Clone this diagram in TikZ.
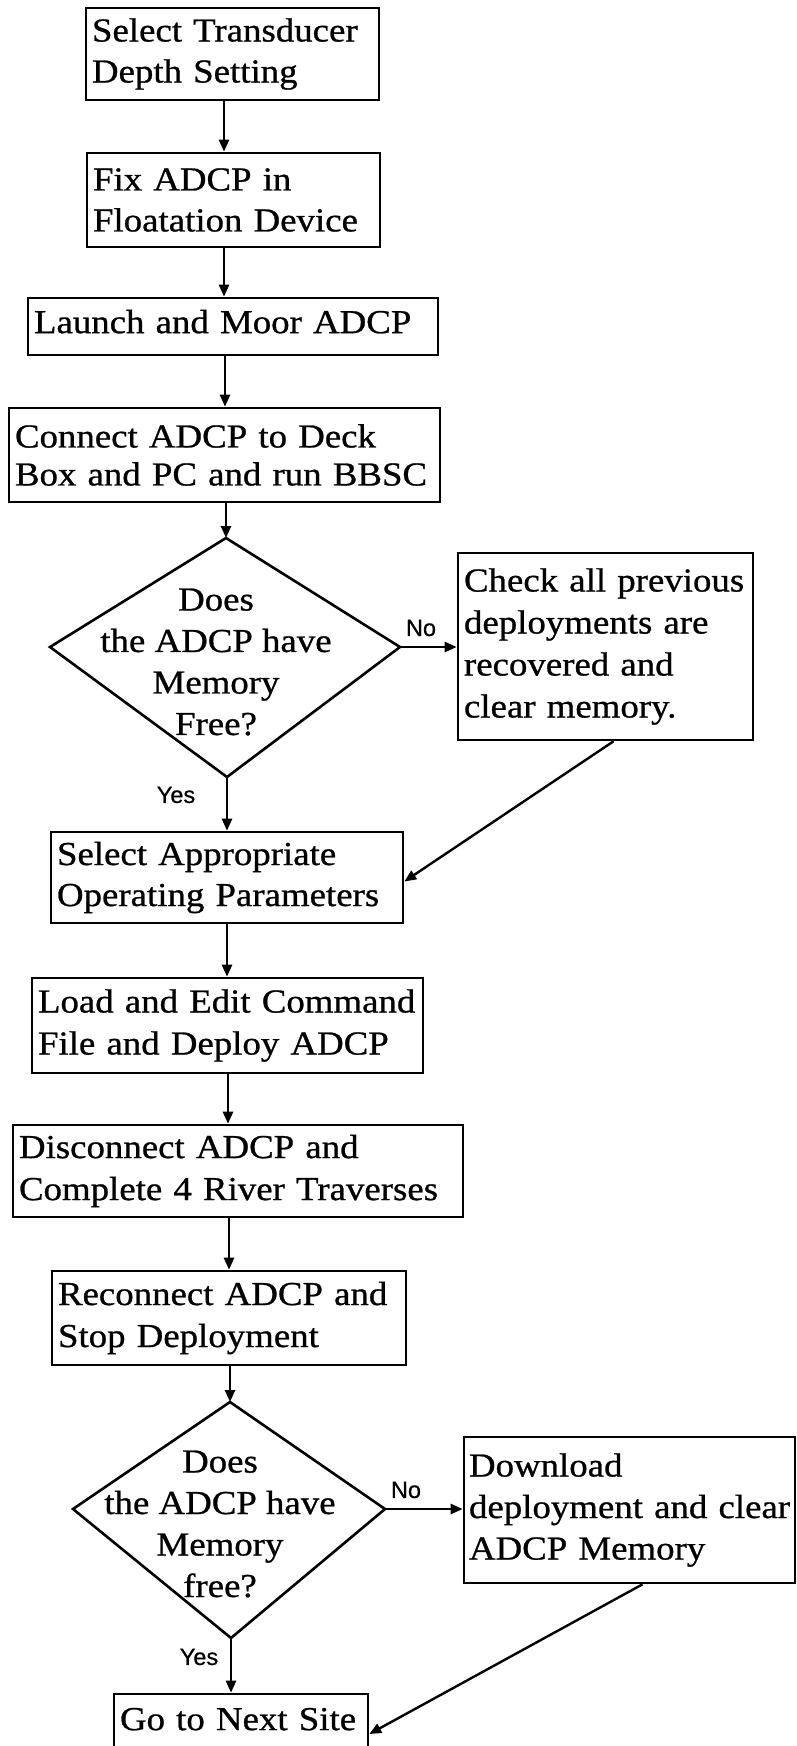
\documentclass[tikz,border=0pt]{standalone}
\usepackage{fontspec}
\setmainfont[FakeStretch=1.1,FakeBold=0.8]{Liberation Serif}
\newfontfamily\lblfont[FakeBold=0.6]{Liberation Sans}
\usetikzlibrary{arrows.meta,calc}
\begin{document}
\begin{tikzpicture}[x=1bp,y=-1bp,
  box/.style={draw,line width=2.6bp,rectangle,align=left,inner xsep=6bp,inner ysep=0pt,
    font=\fontsize{33.5bp}{41bp}\selectfont},
  dtext/.style={align=center,inner sep=0pt,font=\fontsize{33.5bp}{41.5bp}\selectfont},
  kite/.style={line width=2.6bp,line join=miter},
  arr/.style={line width=2.4bp,-{Triangle[length=12bp,width=10bp]}},
  conn/.style={line width=2.4bp,-{Triangle[length=12bp,width=10bp]}},
  lbl/.style={font=\lblfont\fontsize{23.5bp}{26bp}\selectfont,inner sep=0pt}]
\useasboundingbox (0,0) rectangle (797,1746);

% process boxes
\node[box,text width=281bp,minimum height=92bp] (b1) at (232.5,54) {Select Transducer\\Depth Setting};
\node[box,text width=281bp,minimum height=94bp] (b2) at (233.5,200) {Fix ADCP in\\Floatation Device};
\node[box,text width=398bp,minimum height=57bp,text depth=10bp] (b3) at (233,326.5) {Launch and Moor ADCP};
\node[box,text width=419bp,minimum height=94bp,font=\fontsize{33.5bp}{38bp}\selectfont] (b4) at (224.5,455) {Connect ADCP to Deck\\\mbox{Box and PC and run BBSC}};
\node[box,text width=283bp,minimum height=187bp,font=\fontsize{33.5bp}{42bp}\selectfont] (b6) at (605.5,646.5) {\mbox{Check all previous}\\deployments are\\recovered and\\clear memory.};
\node[box,text width=340bp,minimum height=91bp] (b5) at (227,877.5) {Select Appropriate\\\mbox{Operating Parameters}};
\node[box,text width=379bp,minimum height=95bp,font=\fontsize{33.5bp}{42bp}\selectfont] (b7) at (227.5,1025.5) {\mbox{Load and Edit Command}\\File and Deploy ADCP};
\node[box,text width=438bp,minimum height=92bp,font=\fontsize{33.5bp}{42bp}\selectfont] (b8) at (238,1171) {Disconnect ADCP and\\\mbox{Complete 4 River Traverses}};
\node[box,text width=342bp,minimum height=94bp,font=\fontsize{33.5bp}{42bp}\selectfont] (b9) at (229,1318) {\mbox{Reconnect ADCP and}\\Stop Deployment};
\node[box,text width=321bp,minimum height=146bp,inner xsep=5bp,font=\fontsize{33.5bp}{41.5bp}\selectfont] (b10) at (629.5,1510) {Download\\\mbox{deployment and clear}\\ADCP Memory};
\node[box,text width=242bp,minimum height=60bp,text depth=10bp] (b11) at (241,1724) {\mbox{Go to Next Site}};

% decision 1
\coordinate (d1t) at (226,538);
\coordinate (d1r) at (400,647);
\coordinate (d1b) at (227,777);
\coordinate (d1l) at (50,647);
\draw[kite] (d1t) -- (d1r) -- (d1b) -- (d1l) -- cycle;
\node[dtext] (d1) at (216,662) {Does\\the ADCP have\\Memory\\Free?};

% decision 2
\coordinate (d2t) at (230,1402);
\coordinate (d2r) at (385,1509);
\coordinate (d2b) at (231,1638);
\coordinate (d2l) at (73,1509);
\draw[kite] (d2t) -- (d2r) -- (d2b) -- (d2l) -- cycle;
\node[dtext] (d2) at (220,1524) {Does\\the ADCP have\\Memory\\free?};

% vertical connectors
\draw[arr] (224,0 |- b1.south) -- (224,0 |- b2.north);
\draw[arr] (224,0 |- b2.south) -- (224,0 |- b3.north);
\draw[arr] (225,0 |- b3.south) -- (225,0 |- b4.north);
\draw[arr] (d1t |- b4.south) -- (d1t);
\draw[arr] (d1b) -- (d1b |- b5.north);
\draw[arr] (227,0 |- b5.south) -- (227,0 |- b7.north);
\draw[arr] (228,0 |- b7.south) -- (228,0 |- b8.north);
\draw[arr] (229,0 |- b8.south) -- (229,0 |- b9.north);
\draw[arr] (d2t |- b9.south) -- (d2t);
\draw[arr] (d2b) -- (d2b |- b11.north);

% No branches
\draw[arr] (d1r) -- (d1r -| b6.west);
\draw[arr] (d2r) -- (d2r -| b10.west);

% return connectors
\draw[conn] ([xshift=8bp]b6.south) -- ([yshift=-4bp]b5.east);
\draw[conn] ([xshift=13bp]b10.south) -- ([yshift=-10bp]b11.east);

% labels
\node[lbl] (no1) at (421,628) {No};
\node[lbl] (yes1) at (176,795) {Yes};
\node[lbl] (no2) at (406,1490) {No};
\node[lbl] (yes2) at (199,1657) {Yes};
\end{tikzpicture}
\end{document}
